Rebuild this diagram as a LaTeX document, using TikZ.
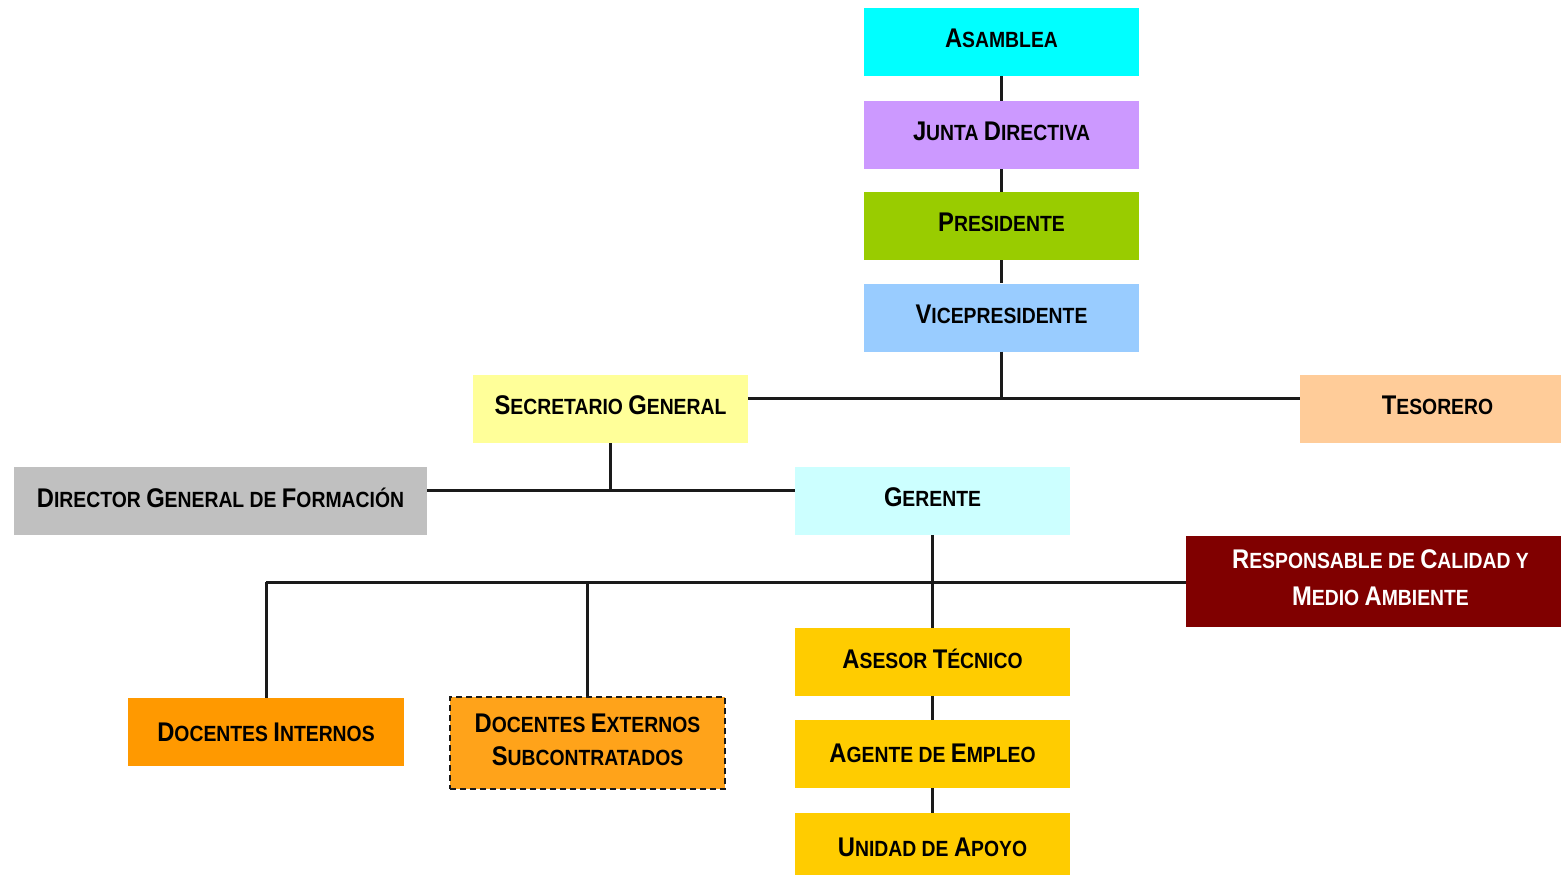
\documentclass[tikz,border=0pt]{standalone}
\usepackage{fontspec}
\setmainfont[FakeStretch=0.88]{Liberation Sans}
\newcommand\scw[2]{{\fontsize{27}{37}\selectfont #1}{\fontsize{22}{37}\selectfont #2}}
\definecolor{cAsam}{HTML}{00FFFF}
\definecolor{cJunta}{HTML}{CC99FF}
\definecolor{cPres}{HTML}{99CC00}
\definecolor{cVice}{HTML}{99CCFF}
\definecolor{cSecr}{HTML}{FFFF99}
\definecolor{cTes}{HTML}{FFCC99}
\definecolor{cDir}{HTML}{C0C0C0}
\definecolor{cGer}{HTML}{CCFFFF}
\definecolor{cResp}{HTML}{800000}
\definecolor{cAses}{HTML}{FFCC00}
\definecolor{cDocI}{HTML}{FF9900}
\definecolor{cDocE}{HTML}{FFA31A}
\definecolor{cLine}{HTML}{1A1A1A}
\tikzset{
  box/.style={rectangle, minimum width=275pt, minimum height=68pt, inner sep=0pt,
    font=\bfseries\fontsize{22}{37}\selectfont, text=black, align=center, text depth=7pt},
  conn/.style={draw=cLine, line width=3pt},
}
\begin{document}
\begin{tikzpicture}[x=1pt,y=-1pt]
\path[use as bounding box, fill=white] (0,0) rectangle (1561,875);
\node[box, fill=cAsam] (asam) at (1001.5,42) {\scw{A}{SAMBLEA}};
\node[box, fill=cJunta] (junta) at (1001.5,135) {\scw{J}{UNTA} \scw{D}{IRECTIVA}};
\node[box, fill=cPres] (pres) at (1001.5,226) {\scw{P}{RESIDENTE}};
\node[box, fill=cVice] (vice) at (1001.5,317.5) {\scw{V}{ICEPRESIDENTE}};
\node[box, fill=cSecr] (secr) at (610.5,409) {\scw{S}{ECRETARIO} \scw{G}{ENERAL}};
\node[box, fill=cTes, minimum width=261pt, text width=261pt, inner xsep=0pt] (tes) at (1430.5,409) {\hspace*{14pt}\scw{T}{ESORERO}};
\node[box, fill=cDir, minimum width=413pt] (dir) at (220.5,501) {\scw{D}{IRECTOR} \scw{G}{ENERAL DE} \scw{F}{ORMACIÓN}};
\node[box, fill=cGer] (ger) at (932.5,501) {\scw{G}{ERENTE}};
\node[box, fill=cResp, text=white, minimum width=375pt, minimum height=91pt] (resp) at (1373.5,581.5)
  {\hspace*{14pt}\scw{R}{ESPONSABLE DE} \scw{C}{ALIDAD Y}\\ \hspace*{14pt}\scw{M}{EDIO} \scw{A}{MBIENTE}};
\node[box, fill=cAses] (ases) at (932.5,662) {\scw{A}{SESOR} \scw{T}{ÉCNICO}};
\node[box, fill=cAses, text depth=1pt] (agen) at (932.5,754) {\scw{A}{GENTE DE} \scw{E}{MPLEO}};
\node[box, fill=cAses, text depth=0pt] (unid) at (932.5,847) {\scw{U}{NIDAD DE} \scw{A}{POYO}};
\node[box, fill=cDocI, minimum width=276pt, text depth=0pt] (doci) at (266,732) {\scw{D}{OCENTES} \scw{I}{NTERNOS}};
\node[box, fill=cDocE, minimum height=92pt, draw=cLine, dash pattern=on 6pt off 4pt, line width=1.5pt,
  font=\bfseries\fontsize{22}{33}\selectfont] (doce) at (587.5,743)
  {\scw{D}{OCENTES} \scw{E}{XTERNOS}\\ \scw{S}{UBCONTRATADOS}};
% connectors
\draw[conn] (asam) -- (junta);
\draw[conn] (junta) -- (pres);
\draw[conn] (pres) -- (vice);
\coordinate (j1) at (1001.5,398);
\draw[conn] (vice.south) -- (j1);
\draw[conn] (secr.east |- j1) -- (tes.west |- j1);
\coordinate (j2) at (610.5,490);
\draw[conn] (secr.south) -- (j2);
\draw[conn] (dir.east |- j2) -- (ger.west |- j2);
\draw[conn] (ger.south) -- (ases.north);
\coordinate (j3) at (932.5,582);
\coordinate (j4) at (266,582);
\draw[conn] (j4) -- (resp.west |- j3);
\draw[conn] (j4) -- (doci.north);
\draw[conn] (doce.north |- j3) -- (doce.north);
\draw[conn] (ases) -- (agen);
\draw[conn] (agen) -- (unid);
\end{tikzpicture}
\end{document}
